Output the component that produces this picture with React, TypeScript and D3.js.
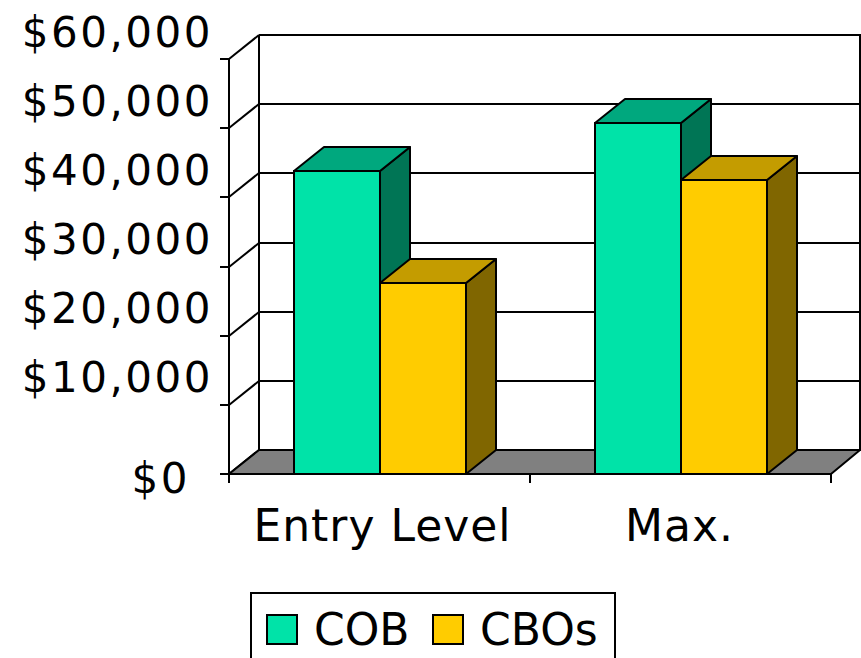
import React from "react";
import * as d3 from "d3";

const categories = ["Entry Level", "Max."];
const seriesNames = ["COB", "CBOs"];
const cobValues = [43800, 50800];
const cboValues = [27600, 42500];
const yTicks = [0, 10000, 20000, 30000, 40000, 50000, 60000];
const tickLabels = ["$0", "$10,000", "$20,000", "$30,000", "$40,000", "$50,000", "$60,000"];

const colors: Record<string, { front: string; top: string; side: string }> = {
  COB: { front: "#00E3A8", top: "#00A87E", side: "#007555" },
  CBOs: { front: "#FFCC00", top: "#C49C00", side: "#806600" },
};

const W = 861;
const H = 658;
const DX = 30;
const DY = -24;
const FONT = "'DejaVu Sans', Verdana, sans-serif";

export default function App() {
  const y = d3.scaleLinear().domain([0, 60000]).range([474, 59]);
  const x = d3.scaleBand<string>().domain(categories).range([229, 831]).padding(0);
  const xs = d3
    .scaleBand<string>()
    .domain(seriesNames)
    .range([0, x.bandwidth()])
    .paddingInner(0)
    .paddingOuter(0.75);

  const data = seriesNames.map((s, si) => ({
    name: s,
    values: si === 0 ? cobValues : cboValues,
  }));

  const x0 = 229;
  const x1 = 831;
  const y0 = y(0);
  const yTop = y(60000);
  const sw = 2;
  const ry = (v: number) => Math.round(y(v));

  return (
    <svg
      width={W}
      height={H}
      style={{ position: "absolute", left: 0, top: 0, background: "#fff" }}
      fontFamily={FONT}
    >
      <g shapeRendering="crispEdges">
        {/* back wall gridlines */}
        {yTicks.map((t) => (
          <line
            key={"g" + t}
            x1={x0 + DX}
            x2={x1 + DX}
            y1={ry(t) + DY}
            y2={ry(t) + DY}
            stroke="#000"
            strokeWidth={sw}
          />
        ))}
        <line x1={x0 + DX} x2={x0 + DX} y1={yTop + DY} y2={y0 + DY} stroke="#000" strokeWidth={sw} />
        <line x1={x1 + DX - 1} x2={x1 + DX - 1} y1={yTop + DY} y2={y0 + DY} stroke="#000" strokeWidth={sw} />
      </g>
      {/* left wall diagonals */}
      {yTicks.map((t) => (
        <line
          key={"d" + t}
          x1={x0}
          x2={x0 + DX}
          y1={ry(t)}
          y2={ry(t) + DY}
          stroke="#000"
          strokeWidth={sw}
        />
      ))}
      {/* floor */}
      <polygon
        points={`${x0},${y0} ${x0 + DX},${y0 + DY} ${x1 + DX - 1},${y0 + DY} ${x1},${y0}`}
        fill="#808080"
        stroke="#000"
        strokeWidth={sw}
        strokeLinejoin="round"
      />
      <g shapeRendering="crispEdges">
        {/* front axis */}
        <line x1={x0} x2={x0} y1={yTop} y2={y0} stroke="#000" strokeWidth={sw} />
        {yTicks.map((t) => (
          <line key={"t" + t} x1={x0 - 9} x2={x0} y1={ry(t)} y2={ry(t)} stroke="#000" strokeWidth={sw} />
        ))}
      </g>
      {/* bars */}
      {categories.map((c, ci) => (
        <g key={c}>
          {data.map((s) => {
            const v = s.values[ci];
            const bx0 = Math.round((x(c) as number) + (xs(s.name) as number));
            const bx1 = Math.round(bx0 + xs.bandwidth());
            const by = ry(v);
            const col = colors[s.name];
            return (
              <g key={s.name} stroke="#000" strokeWidth={sw} strokeLinejoin="round">
                <polygon
                  points={`${bx1},${by} ${bx1 + DX},${by + DY} ${bx1 + DX},${y0 + DY} ${bx1},${y0}`}
                  fill={col.side}
                />
                <polygon
                  points={`${bx0},${by} ${bx0 + DX},${by + DY} ${bx1 + DX},${by + DY} ${bx1},${by}`}
                  fill={col.top}
                />
                <rect
                  x={bx0}
                  y={by}
                  width={bx1 - bx0}
                  height={y0 - by}
                  fill={col.front}
                  shapeRendering="crispEdges"
                />
              </g>
            );
          })}
        </g>
      ))}
      {/* baseline and category ticks */}
      <g shapeRendering="crispEdges">
        <line x1={x0 - 9} x2={x1} y1={y0} y2={y0} stroke="#000" strokeWidth={sw} />
        {[...categories.map((c) => x(c) as number), x1].map((px, i) => (
          <line key={"ct" + i} x1={px} x2={px} y1={y0} y2={y0 + 9} stroke="#000" strokeWidth={sw} />
        ))}
      </g>
      {/* y labels */}
      {yTicks.map((t, i) => {
        const isZero = t === 0;
        const cy = isZero ? y(t) + 3 : y(t) + DY - 4;
        const rx = isZero ? 190 : 213;
        return (
          <text
            key={"l" + t}
            x={rx}
            y={cy + 15.5}
            textAnchor="end"
            fontSize={42}
            letterSpacing={2.5}
            fill="#000"
          >
            {tickLabels[i]}
          </text>
        );
      })}
      {/* category labels */}
      {categories.map((c, i) => (
        <text
          key={"c" + c}
          x={(x(c) as number) + x.bandwidth() / 2 + (i === 0 ? 3 : -1)}
          y={541}
          textAnchor="middle"
          fontSize={44}
          letterSpacing={1}
          fill="#000"
        >
          {c}
        </text>
      ))}
      {/* legend */}
      <rect
        x={251}
        y={593}
        width={364}
        height={80}
        fill="#fff"
        stroke="#000"
        strokeWidth={sw}
        shapeRendering="crispEdges"
      />
      {seriesNames.map((s, i) => {
        const lx = i === 0 ? 267 : 433;
        return (
          <g key={"lg" + s}>
            <rect
              x={lx}
              y={615}
              width={30}
              height={29}
              fill={colors[s].front}
              stroke="#000"
              strokeWidth={sw}
              shapeRendering="crispEdges"
            />
            <text x={lx + 47} y={645} fontSize={44} fill="#000">
              {s}
            </text>
          </g>
        );
      })}
    </svg>
  );
}
